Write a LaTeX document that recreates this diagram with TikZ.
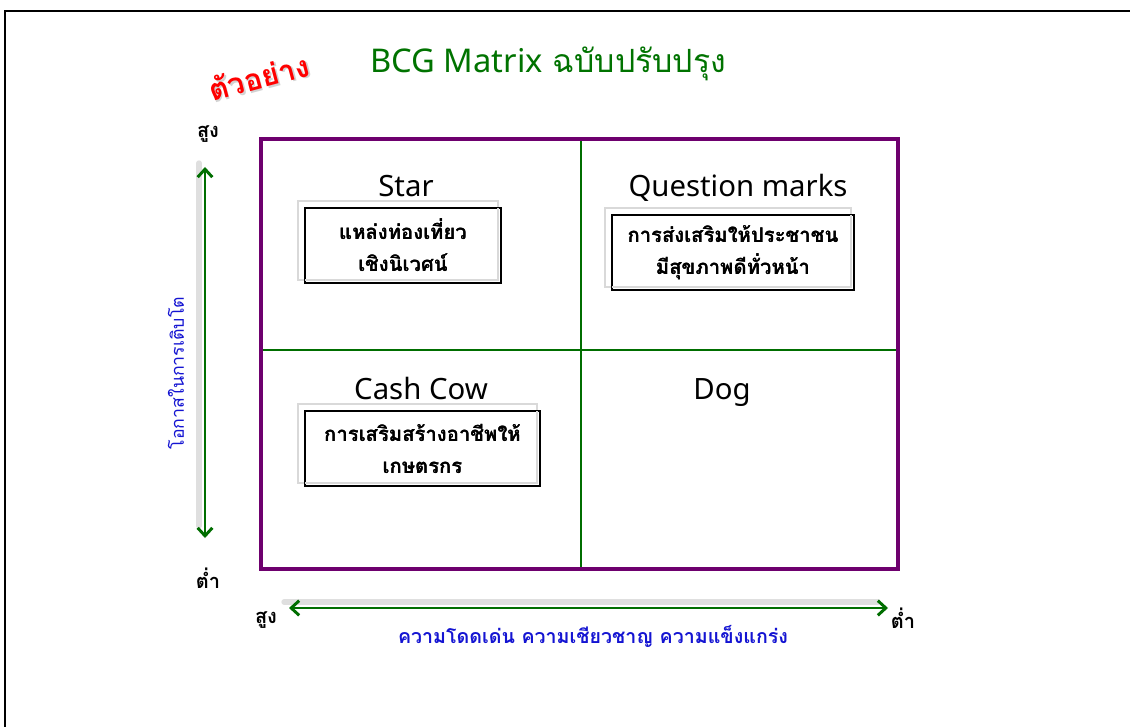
\documentclass[tikz,border=0pt]{standalone}
\usepackage{fontspec}
\usetikzlibrary{arrows.meta}
\newfontfamily\thai[Script=Thai]{Loma}
\newfontfamily\lat{Noto Sans}
\definecolor{mpurple}{RGB}{110,0,110}
\definecolor{mgreen}{RGB}{0,110,0}
\definecolor{tgreen}{RGB}{0,115,0}
\definecolor{mblue}{RGB}{20,20,210}
\tikzset{
  qbox/.style={draw=black, line width=1pt, fill=white, inner sep=0pt, align=center,
    font=\thai\bfseries\fontsize{15.2}{24}\selectfont},
  shadowbox/.style={draw=gray!30, line width=1.6pt},
  quadlabel/.style={font=\lat\fontsize{22}{26}\selectfont, inner sep=0pt, anchor=base},
  axlabel/.style={font=\thai\bfseries\fontsize{15}{17}\selectfont, inner sep=0pt},
  garrow/.style={mgreen, line width=2.2pt, {Straight Barb[length=6pt,width=11pt]}-{Straight Barb[length=6pt,width=11pt]}},
  gshadow/.style={gray!25, line width=4pt, line cap=round},
}
\begin{document}
\begin{tikzpicture}[x=0.75pt,y=-0.75pt]
\useasboundingbox (0,0) rectangle (1130,727);
\fill[white] (0,0) rectangle (1130,727);
% frame
\draw[line width=2.2pt] (5,730) -- (5,11) -- (1133,11);

% title
\node[font=\fontsize{24.5}{28}\selectfont, text=tgreen, inner sep=0pt, anchor=base west] (title) at (370,73) {{\lat BCG Matrix} {\thai\fontsize{24}{28}\selectfont ฉบับปรับปรุง}};
\node[font=\thai\bfseries\fontsize{22.5}{26}\selectfont, text=gray!35, rotate=15, inner sep=0pt] (exsh) at (260.5,78.5) {ตัวอย่าง};
\node[font=\thai\bfseries\fontsize{22.5}{26}\selectfont, text=red, rotate=15, inner sep=0pt] (ex) at (259,77) {ตัวอย่าง};

% matrix
\coordinate (tl) at (261,139);
\coordinate (tr) at (898,139);
\coordinate (bl) at (261,569);
\coordinate (br) at (898,569);
\coordinate (tm) at (581,139);
\coordinate (bm) at (581,569);
\coordinate (lm) at (261,350);
\coordinate (rm) at (898,350);
\draw[mgreen, line width=1.5pt] (tm) -- (bm);
\draw[mgreen, line width=1.5pt] (lm) -- (rm);
\draw[mpurple, line width=3pt] (tl) rectangle (br);

% quadrant labels
\node[quadlabel] (star) at (406,197) {Star};
\node[quadlabel] (qm) at (738,197) {Question marks};
\node[quadlabel] (cash) at (421,399) {Cash Cow};
\node[quadlabel] (dog) at (722,399) {Dog};

% boxes
\node[qbox, minimum width=147pt, minimum height=56.25pt] (starbox) at (403,245.5) {แหล่งท่องเที่ยว\\เชิงนิเวศน์};
\node[qbox, minimum width=181.5pt, minimum height=56.25pt] (qmbox) at (733,252.5) {การส่งเสริมให้ประชาชน\\มีสุขภาพดีทั่วหน้า};
\node[qbox, minimum width=176.25pt, minimum height=56.25pt] (cashbox) at (422.5,448.5) {การเสริมสร้างอาชีพให้\\เกษตรกร};
\foreach \b in {starbox,qmbox,cashbox}{
  \draw[shadowbox] ([shift={(-6,-6)}]\b.north west) rectangle ([shift={(-4,-4)}]\b.south east);
  \draw[line width=1pt] (\b.north west) rectangle (\b.south east);
}
% box texts above the shadows
\node[qbox, draw=none, fill=none] at (starbox) {แหล่งท่องเที่ยว\\เชิงนิเวศน์};
\node[qbox, draw=none, fill=none] at (qmbox) {การส่งเสริมให้ประชาชน\\มีสุขภาพดีทั่วหน้า};
\node[qbox, draw=none, fill=none] at (cashbox) {การเสริมสร้างอาชีพให้\\เกษตรกร};

% vertical axis
\coordinate (vt) at (205,167);
\coordinate (vb) at (205,538);
\draw[gshadow] (199,163) -- (199,526);
\draw[garrow] (vt) -- (vb);
\node[axlabel] (vhigh) at (208,134) {สูง};
\node[axlabel] (vlow) at (208,578) {ต่ำ};
\node[font=\thai\fontsize{13.3}{16}\selectfont, text=mblue, rotate=90, inner sep=0pt] (vlab) at (176,373) {โอกาสในการเติบโต};

% horizontal axis
\coordinate (hl) at (289,608);
\coordinate (hr) at (888,608);
\draw[gshadow] (284,602) -- (878,602);
\draw[garrow] (hl) -- (hr);
\node[axlabel] (hhigh) at (266,620) {สูง};
\node[axlabel] (hlow) at (903,618) {ต่ำ};
\node[font=\thai\bfseries\fontsize{14.7}{17}\selectfont, text=mblue, inner sep=0pt] (hlab) at (593,636) {ความโดดเด่น ความเชียวชาญ ความแข็งแกร่ง};
\end{tikzpicture}
\end{document}
